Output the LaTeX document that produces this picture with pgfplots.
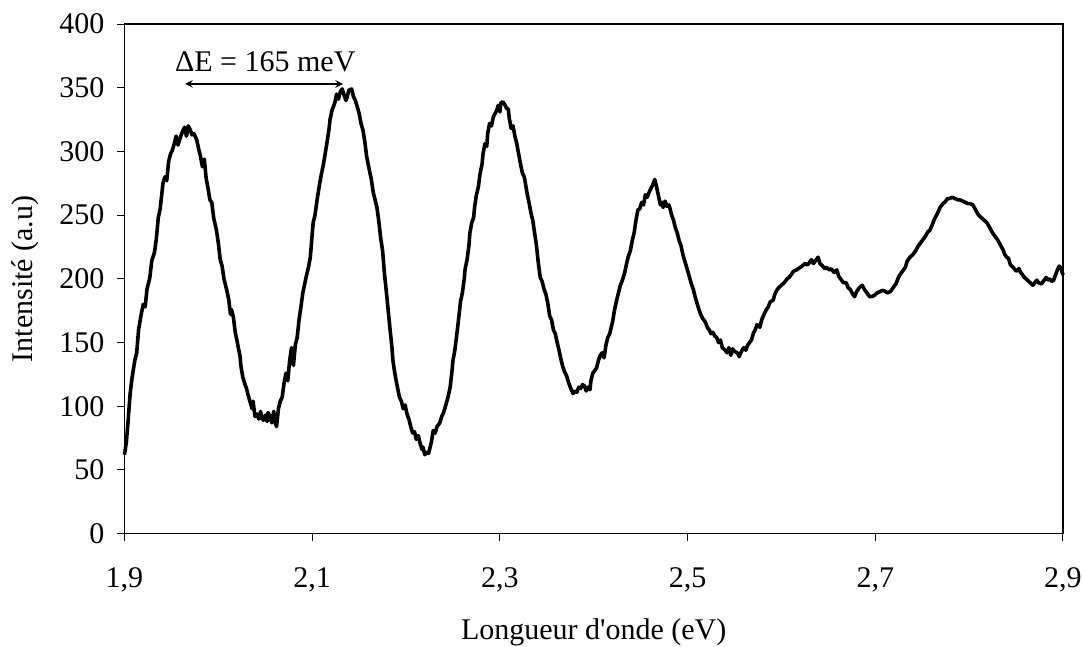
\documentclass[border=0pt]{standalone}
\usepackage{fontspec}
\setmainfont{Liberation Serif}
\usepackage{pgfplots}
\pgfplotsset{compat=1.18}

\pgfplotstableread{
x y
1.900 62
1.902 72
1.904 90
1.906 110
1.908 122
1.911 136
1.913 142
1.915 160
1.918 173
1.920 180
1.922 178
1.924 192
1.927 201
1.929 214
1.932 221
1.934 232
1.936 248
1.938 255
1.941 275
1.943 280
1.945 277
1.947 292
1.949 298
1.951 301
1.953 306
1.955 312
1.957 305
1.959 310
1.962 316
1.964 319
1.966 312
1.968 320
1.970 317
1.972 313
1.974 314
1.977 309
1.979 302
1.981 296
1.983 288
1.985 294
1.987 279
1.989 271
1.991 262
1.993 260
1.995 248
1.998 238
2.000 228
2.002 215
2.004 210
2.006 200
2.009 191
2.011 184
2.013 172
2.014 176
2.016 170
2.018 158
2.020 151
2.021 147
2.023 140
2.024 132
2.026 123
2.028 118
2.030 114
2.032 108
2.034 103
2.036 98
2.037 104
2.039 92
2.041 94
2.043 90
2.045 96
2.046 91
2.048 89
2.050 93
2.052 88
2.053 95
2.055 92
2.057 87
2.059 96
2.060 89
2.062 84
2.064 98
2.066 104
2.068 107
2.070 118
2.072 126
2.074 120
2.076 136
2.078 146
2.080 132
2.082 148
2.084 154
2.086 168
2.088 178
2.090 189
2.092 196
2.094 203
2.096 209
2.098 217
2.100 235
2.101 244
2.103 250
2.105 261
2.108 275
2.110 283
2.112 290
2.114 299
2.116 308
2.118 318
2.119 325
2.121 332
2.124 338
2.126 345
2.128 341
2.130 347
2.132 349
2.134 344
2.136 340
2.137 342
2.139 348
2.142 349
2.144 343
2.146 340
2.148 335
2.150 330
2.152 322
2.154 317
2.156 308
2.158 296
2.161 285
2.163 278
2.165 268
2.167 262
2.169 256
2.171 245
2.173 232
2.175 222
2.177 204
2.179 190
2.181 175
2.183 160
2.185 146
2.186 136
2.188 126
2.190 118
2.193 107
2.195 104
2.197 98
2.199 101
2.201 94
2.203 90
2.205 84
2.207 79
2.209 80
2.211 74
2.213 77
2.215 71
2.217 66
2.218 68
2.220 62
2.222 64
2.224 63
2.225 66
2.227 72
2.229 81
2.231 79
2.233 84
2.236 87
2.238 92
2.240 95
2.242 100
2.245 108
2.247 115
2.249 128
2.250 136
2.252 144
2.253 150
2.255 162
2.257 175
2.258 182
2.260 189
2.262 200
2.263 208
2.265 215
2.267 226
2.268 236
2.270 244
2.272 248
2.273 256
2.275 266
2.277 272
2.279 283
2.281 290
2.282 298
2.284 306
2.286 304
2.287 314
2.289 322
2.291 320
2.293 327
2.295 330
2.297 333
2.298 336
2.300 331
2.301 338
2.303 339
2.305 337
2.307 334
2.309 333
2.310 326
2.312 318
2.314 320
2.316 312
2.318 306
2.320 298
2.322 290
2.324 283
2.326 280
2.329 267
2.331 260
2.333 252
2.335 246
2.337 236
2.339 226
2.341 212
2.343 201
2.345 198
2.347 192
2.349 188
2.351 181
2.353 171
2.355 168
2.357 160
2.359 157
2.361 150
2.363 144
2.365 137
2.367 131
2.369 127
2.371 124
2.373 119
2.375 115
2.378 110
2.380 112
2.382 111
2.384 115
2.386 114
2.388 117
2.390 116
2.392 112
2.394 115
2.396 113
2.397 120
2.399 126
2.401 128
2.403 130
2.405 136
2.407 140
2.409 142
2.411 138
2.413 148
2.415 154
2.417 157
2.420 166
2.422 175
2.424 182
2.426 188
2.428 194
2.431 200
2.433 205
2.435 212
2.437 218
2.439 222
2.441 230
2.443 236
2.445 246
2.447 254
2.449 255
2.451 260
2.453 258
2.455 266
2.457 264
2.459 268
2.461 271
2.463 274
2.465 278
2.467 272
2.469 265
2.471 258
2.473 260
2.474 256
2.476 261
2.478 257
2.480 258
2.481 256
2.483 250
2.485 246
2.487 240
2.489 236
2.491 230
2.493 226
2.495 219
2.497 214
2.499 209
2.501 204
2.504 196
2.506 192
2.508 186
2.510 181
2.512 176
2.514 172
2.516 169
2.519 166
2.521 162
2.523 160
2.525 157
2.527 158
2.529 155
2.531 154
2.533 150
2.535 152
2.537 146
2.540 144
2.542 142
2.544 146
2.546 140
2.548 145
2.550 143
2.553 142
2.555 139
2.556 141
2.558 144
2.560 146
2.562 144
2.564 148
2.566 150
2.568 152
2.570 157
2.572 160
2.574 164
2.577 162
2.579 168
2.582 173
2.584 176
2.586 178
2.588 182
2.591 183
2.593 188
2.595 191
2.597 193
2.600 195
2.603 197
2.606 200
2.608 201
2.610 203
2.613 206
2.616 207
2.620 209
2.622 210
2.625 212
2.628 211
2.630 213
2.632 215
2.634 212
2.636 214
2.639 217
2.641 212
2.644 210
2.646 208
2.648 209
2.651 207
2.653 208
2.656 205
2.659 207
2.661 202
2.663 200
2.666 197
2.669 197
2.671 193
2.673 192
2.676 188
2.678 186
2.680 190
2.683 193
2.686 195
2.689 191
2.692 188
2.694 186
2.696 186
2.699 187
2.702 189
2.705 190
2.708 191
2.711 190
2.713 189
2.716 190
2.719 193
2.722 196
2.724 200
2.726 203
2.729 206
2.732 209
2.734 214
2.737 217
2.740 219
2.743 222
2.745 225
2.748 228
2.751 231
2.754 234
2.756 237
2.758 238
2.761 243
2.763 247
2.766 251
2.769 256
2.772 259
2.774 260
2.777 263
2.779 263
2.782 264
2.785 263
2.788 262
2.790 262
2.793 261
2.796 260
2.799 259
2.801 259
2.804 258
2.807 254
2.810 250
2.813 248
2.816 246
2.819 244
2.822 240
2.825 236
2.827 234
2.830 231
2.833 227
2.836 223
2.838 219
2.840 217
2.842 216
2.844 211
2.847 209
2.849 207
2.851 206
2.853 208
2.855 205
2.857 203
2.859 201
2.862 199
2.865 197
2.868 195
2.870 197
2.872 199
2.874 197
2.877 196
2.879 198
2.882 201
2.884 199
2.886 200
2.888 198
2.890 199
2.892 203
2.894 207
2.896 210
2.898 208
2.900 203
}\spectre

\begin{document}
\begin{tikzpicture}
% fixe la taille de la page aux proportions de l'original
\path[use as bounding box] (-62.25pt,-56.65pt) rectangle (479.75pt,266.85pt);
\begin{axis}[
  at={(0,0)}, anchor=south west,
  scale only axis,
  width=469.25pt, height=254.85pt,
  xmin=1.9, xmax=2.9,
  ymin=0, ymax=400,
  xtick={1.9,2.1,2.3,2.5,2.7,2.9},
  ytick={0,50,100,150,200,250,300,350,400},
  xtick pos=bottom, ytick pos=left,
  tick align=outside,
  major tick length=3.5pt,
  tick style={black, line width=0.5pt},
  axis line style={line width=0.7pt},
  /pgf/number format/.cd, use comma, fixed, fixed zerofill=false, assume math mode=true,
  /pgfplots/.cd,
  tick label style={font=\fontsize{15}{18}\selectfont},
  label style={font=\fontsize{15}{18}\selectfont},
  xticklabel style={yshift=-10pt},
  yticklabel style={xshift=-3pt},
  xlabel={Longueur d\textquotesingle onde (eV)},
  ylabel={Intensité (a.u)},
  xlabel style={yshift=-6.5pt},
  ylabel style={yshift=3.5pt},
  clip=false,
]
\addplot[black, line width=1.8pt, line join=round] table {\spectre};
\draw[<->, >=stealth, line width=0.7pt] (axis cs:1.9645,353) -- (axis cs:2.1328,353);
\node[font=\fontsize{15}{18}\selectfont] at (axis cs:2.05,370) {ΔE = 165 meV};
\end{axis}
\end{tikzpicture}
\end{document}
